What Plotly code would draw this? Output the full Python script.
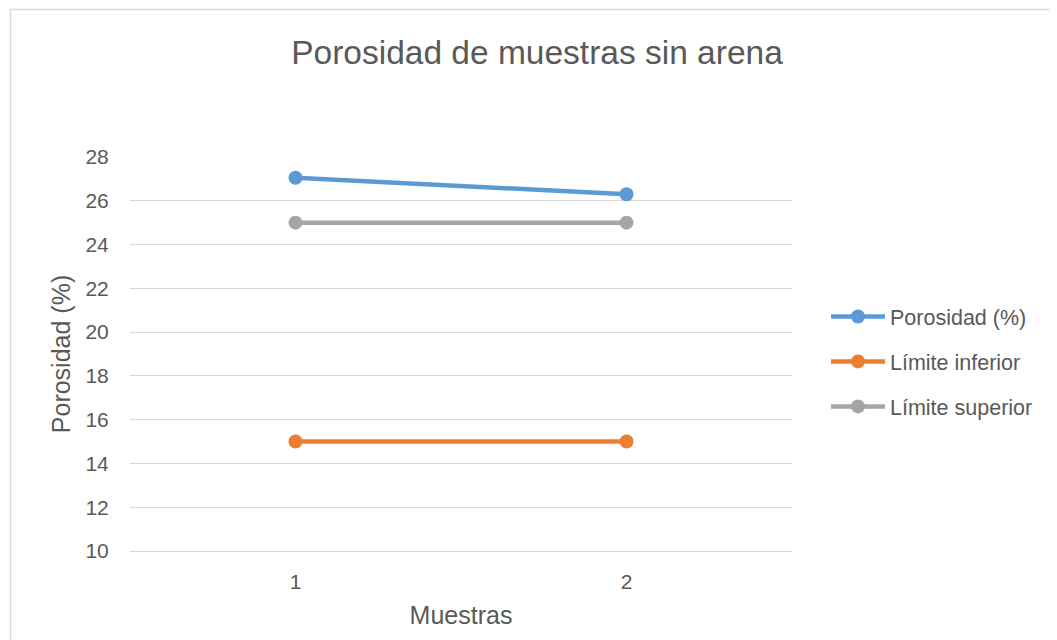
import plotly.graph_objects as go

muestras = [1, 2]
porosidad = [27.05, 26.3]
limite_inferior = [15, 15]
limite_superior = [25, 25]
series_names = ["Porosidad (%)", "Límite inferior", "Límite superior"]
colors = ["#5B9BD5", "#ED7D31", "#A5A5A5"]

W, H = 1057, 640
L, R, T, B = 122, 273, 149, 97
pw, ph = W - L - R, H - T - B

def px_x(x):
    return (x - L) / pw

def px_y(y):
    return (H - B - y) / ph

FONT = "Liberation Sans"
TXT = "#595959"
GRID = "#D9D9D9"

fig = go.Figure()
for name, vals, c in zip(series_names, [porosidad, limite_inferior, limite_superior], colors):
    fig.add_trace(go.Scatter(
        x=muestras, y=vals, name=name, mode="lines+markers",
        line=dict(color=c, width=4.5),
        marker=dict(color=c, size=14),
        legendgroup=name,
    ))

fig.update_layout(
    width=W, height=H,
    margin=dict(l=L, r=R, t=T, b=B),
    paper_bgcolor="white", plot_bgcolor="white",
    font=dict(family=FONT, color=TXT),
    title=dict(text="Porosidad de muestras sin arena", x=529 / W, xref="container", xanchor="center",
               y=1 - 44 / H, yref="container", yanchor="middle",
               font=dict(size=33.5, color=TXT, family=FONT)),
    xaxis=dict(range=[0.5, 2.5], tickvals=muestras, ticktext=[str(m) for m in muestras],
               showgrid=False, zeroline=False, showline=True, linecolor=GRID, linewidth=1.3,
               ticks="outside", ticklen=12, tickcolor="rgba(0,0,0,0)",
               tickfont=dict(size=21, color=TXT),
               title=dict(text="Muestras", font=dict(size=25, color=TXT), standoff=14)),
    yaxis=dict(range=[10, 28], dtick=2, tick0=10, showgrid=True, gridcolor=GRID, gridwidth=1.3,
               zeroline=False, showline=False,
               ticks="outside", ticklen=16, tickcolor="rgba(0,0,0,0)",
               tickfont=dict(size=21, color=TXT),
               title=dict(text="Porosidad (%)", font=dict(size=25, color=TXT), standoff=7)),
    legend=dict(x=px_x(818), xanchor="left", y=px_y(288), yanchor="top",
                font=dict(size=21.5, color=TXT), tracegroupgap=14, itemwidth=54,
                bgcolor="rgba(0,0,0,0)"),
    showlegend=True,
)

fig.add_shape(type="rect", xref="paper", yref="paper",
              x0=px_x(2.5), x1=px_x(1048.5), y0=px_y(648), y1=px_y(1.5),
              line=dict(color=GRID, width=1.5), fillcolor="rgba(0,0,0,0)", layer="below")

fig.write_html("out.html")
